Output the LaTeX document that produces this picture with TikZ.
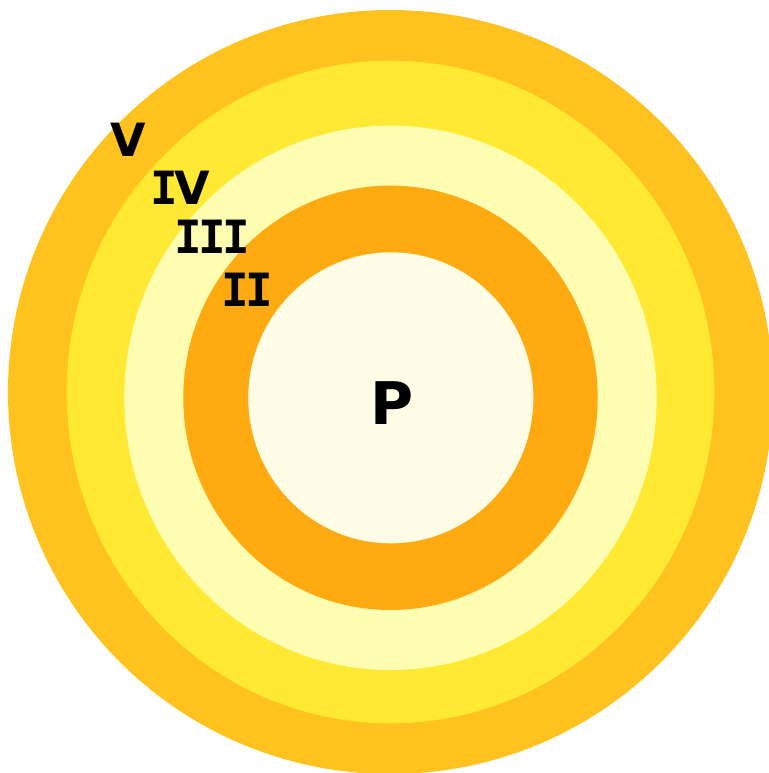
\documentclass[tikz,border=0pt]{standalone}
\usepackage{fontspec}
\setmainfont{DejaVu Sans}
\setmonofont{DejaVu Sans Mono}
\usepackage{tikz}
\usetikzlibrary{positioning}
\definecolor{ringfive}{RGB}{255,194,30}
\definecolor{ringfour}{RGB}{255,233,51}
\definecolor{ringthree}{RGB}{255,253,178}
\definecolor{ringtwo}{RGB}{255,170,17}
\definecolor{core}{RGB}{255,253,230}
\newcommand{\disc}[5]{%
  \fill[#5] (#1,#2) ellipse [x radius=#3, y radius=#4];%
}
% serifed capital I
\newcommand{\sI}{{\ttfamily I}\kern-3.5bp}
\tikzset{
  lvl/.style={font=\fontsize{46}{46}\selectfont\bfseries,inner sep=0pt,text=black},
  ctr/.style={font=\fontsize{59}{59}\selectfont\bfseries,inner sep=0pt,text=black}
}

\begin{document}
\begin{tikzpicture}[x=1bp,y=-1bp]
  \useasboundingbox (0,0) rectangle (769,773);
  \disc{390.5}{392}{382.5}{382}{ringfive}
  \disc{390.5}{392}{323.8}{331.3}{ringfour}
  \disc{390.5}{397.8}{266.2}{272.2}{ringthree}
  \disc{390.5}{397.8}{207.2}{212.2}{ringtwo}
  \disc{390.8}{397.8}{142.5}{145.5}{core}
  \node[lvl] (v) at (128,140) {V};
  \node[lvl] (iv) at (180,188) {\sI V};
  \node[lvl] (iii) at (212,237) {\sI\sI{\ttfamily I}};
  \node[lvl] (ii) at (247.5,290) {\sI{\ttfamily I}};
  \node[ctr] (p) at (392,403.5) {P};
\end{tikzpicture}
\end{document}
